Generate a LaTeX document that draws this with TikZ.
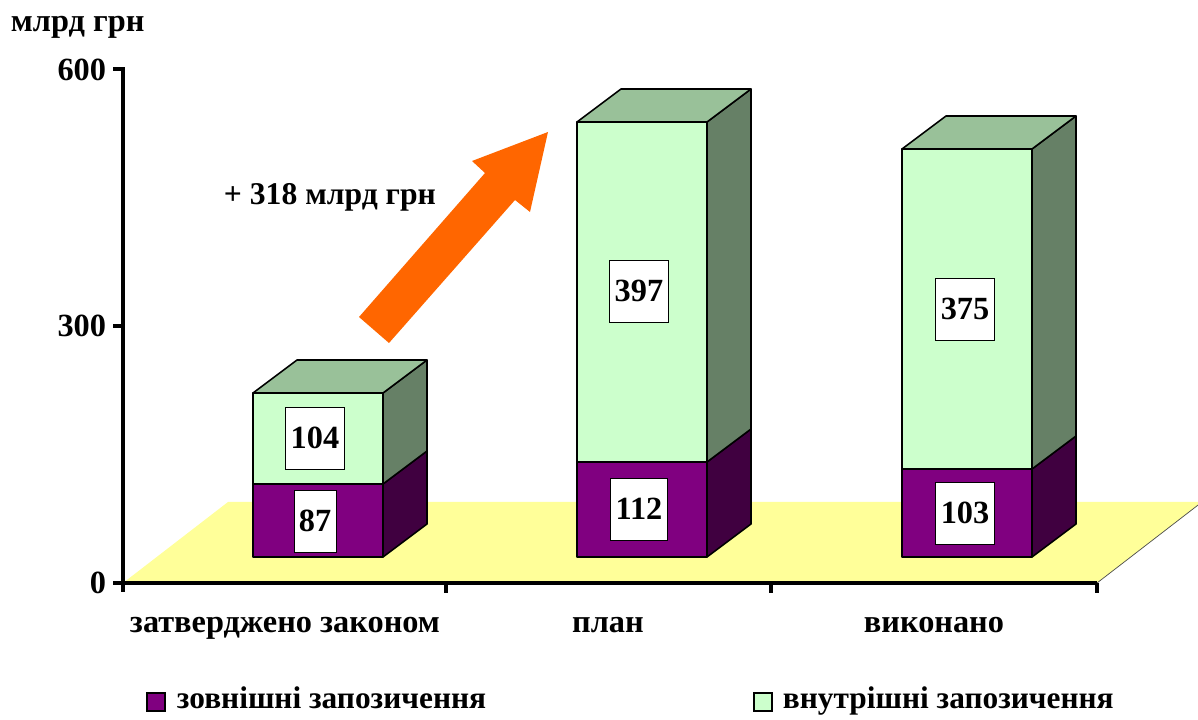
\documentclass[tikz,border=0pt]{standalone}
\usepackage{fontspec}
\setmainfont{Liberation Serif}
\definecolor{purp}{RGB}{128,0,128}
\definecolor{purpside}{RGB}{64,0,64}
\definecolor{mint}{RGB}{204,255,204}
\definecolor{minttop}{RGB}{153,193,153}
\definecolor{mintside}{RGB}{102,128,102}
\definecolor{floorylw}{RGB}{255,255,153}
\definecolor{growth}{RGB}{255,102,0}
\begin{document}
\begin{tikzpicture}[x=0.025cm, y=-0.025cm, font=\fontsize{23}{25}\selectfont\bfseries,
  face/.style={draw=black, line width=1.1pt, line join=round},
  val/.style={draw=black, fill=white, line width=0.5pt, inner xsep=3.5pt, minimum height=1.55cm},
  key/.style={draw=black, line width=1pt, minimum size=0.45cm, inner sep=0pt},
  keytext/.style={anchor=base west, font=\fontsize{22.3}{24}\selectfont\bfseries}]
\useasboundingbox (0,0) rectangle (1198,720);
% floor
\fill[floorylw] (123,583) -- (1097,583) -- (1202,502) -- (228,502) -- cycle;
\draw[black!70, line width=0.5pt] (1097,583) -- (1202,502);
% axes
\draw[line width=2.8pt] (113,69) -- (123,69) -- (123,592);
\draw[line width=2.8pt] (113,326) -- (123,326);
\draw[line width=2.8pt] (113,583) -- (1097,583);
\draw[line width=2.8pt] (446,583) -- (446,593);
\draw[line width=2.8pt] (771,583) -- (771,593);
\draw[line width=2.8pt] (1097,583) -- (1097,593);
\node[anchor=east] (Y600) at (111,70) {600};
\node[anchor=east] (Y300) at (111,326) {300};
\node[anchor=east] (Y0) at (111,583) {0};
\node[anchor=base west] (unit) at (6,32) {млрд грн};
% bar 1
\filldraw[face, fill=purp] (253,557) rectangle (383,484);
\filldraw[face, fill=purpside] (383,557) -- ++(44,-33) -- ++(0,-73) -- (383,484) -- cycle;
\filldraw[face, fill=mint] (253,484) rectangle (383,393);
\filldraw[face, fill=mintside] (383,484) -- ++(44,-33) -- ++(0,-91) -- (383,393) -- cycle;
\filldraw[face, fill=minttop] (253,393) -- ++(44,-33) -- ++(130,0) -- (383,393) -- cycle;
% bar 2
\filldraw[face, fill=purp] (577,557) rectangle (707,462);
\filldraw[face, fill=purpside] (707,557) -- ++(44,-33) -- ++(0,-95) -- (707,462) -- cycle;
\filldraw[face, fill=mint] (577,462) rectangle (707,122);
\filldraw[face, fill=mintside] (707,462) -- ++(44,-33) -- ++(0,-340) -- (707,122) -- cycle;
\filldraw[face, fill=minttop] (577,122) -- ++(44,-33) -- ++(130,0) -- (707,122) -- cycle;
% bar 3
\filldraw[face, fill=purp] (902,557) rectangle (1032,469);
\filldraw[face, fill=purpside] (1032,557) -- ++(44,-33) -- ++(0,-88) -- (1032,469) -- cycle;
\filldraw[face, fill=mint] (902,469) rectangle (1032,149);
\filldraw[face, fill=mintside] (1032,469) -- ++(44,-33) -- ++(0,-320) -- (1032,149) -- cycle;
\filldraw[face, fill=minttop] (902,149) -- ++(44,-33) -- ++(130,0) -- (1032,149) -- cycle;
% values
\node[val] (v1a) at (315,521) {87};
\node[val] (v1b) at (315,438) {104};
\node[val] (v2a) at (639,509) {112};
\node[val] (v2b) at (639,291) {397};
\node[val] (v3a) at (965,513) {103};
\node[val] (v3b) at (965,309) {375};
% growth arrow
\fill[growth] (359,317) -- (485,173) -- (472,161) -- (548,132) -- (530,212) -- (515,200) -- (389,343) -- cycle;
\node[anchor=base west, font=\fontsize{22.5}{24}\selectfont\bfseries] (gain) at (219,205) {+ 318 млрд грн};
% categories
\node[anchor=base] (c1) at (285,632) {затверджено законом};
\node[anchor=base] (c2) at (608,632) {план};
\node[anchor=base] (c3) at (934,632) {виконано};
% legend
\node[key, fill=purp] (k1) at (156,702) {};
\node[keytext] (l1) at (172,708) {зовнішні запозичення};
\node[key, fill=mint] (k2) at (763,702) {};
\node[keytext] (l2) at (778,708) {внутрішні запозичення};
\end{tikzpicture}
\end{document}
